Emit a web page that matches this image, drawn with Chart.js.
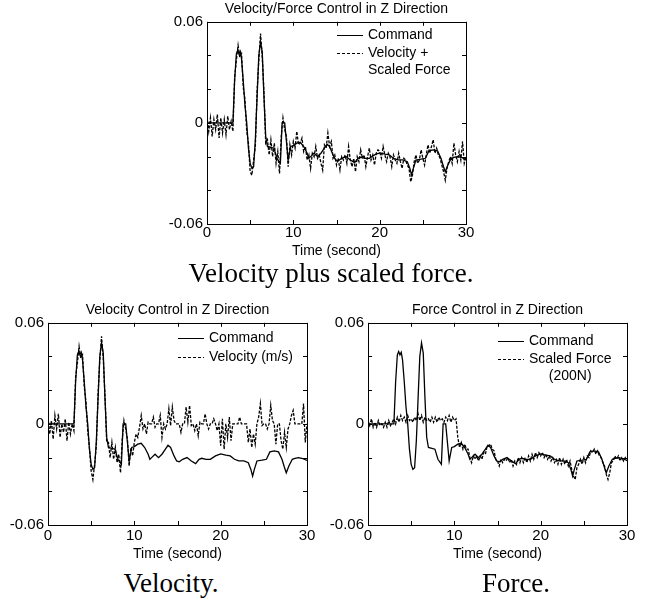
<!DOCTYPE html>
<html>
<head>
<meta charset="utf-8">
<script src="https://cdn.jsdelivr.net/npm/chart.js@4.4.0/dist/chart.umd.min.js"></script>
<style>
body { margin:0; background:#fff; width:647px; height:603px; position:relative; overflow:hidden; }
canvas { position:absolute; }
.cap { position:absolute; font-family:"Liberation Serif", serif; font-size:27px; line-height:1; color:#000; white-space:nowrap; transform:translateX(-50%); }
</style>
</head>
<body>
<canvas id="top" width="355" height="262" style="left:159px;top:0px"></canvas>
<canvas id="vel" width="355" height="263" style="left:0px;top:302px"></canvas>
<canvas id="frc" width="355" height="263" style="left:320px;top:302px"></canvas>
<div class="cap" style="left:331px;top:260px">Velocity plus scaled force.</div>
<div class="cap" style="left:171px;top:570px">Velocity.</div>
<div class="cap" style="left:516px;top:570px">Force.</div>
<script>
// command signal (same in all three plots)
var cmdTime = [0, 3.0, 3.2, 3.4, 3.55, 3.7, 3.85, 4.0, 4.2, 4.4,
  4.6, 4.8, 5.0, 5.2, 5.4, 5.6, 5.8, 6.0, 6.2, 6.4,
  6.6, 6.8, 7.0, 7.75, 8.1, 8.5, 8.7, 9.0, 9.4, 9.7,
  10.0, 10.4, 10.8, 11.2, 11.6, 11.8, 12.0, 12.4, 12.8, 13.2,
  13.6, 13.9, 14.2, 14.6, 14.9, 15.2, 15.6, 16.1, 16.6, 17.1,
  17.5, 17.8, 18.3, 18.8, 19.4, 20.0, 20.6, 21.1, 21.6, 22.1,
  22.7, 23.2, 23.5, 23.7, 23.9, 24.2, 24.8, 25.3, 25.7, 26.2,
  26.7, 27.1, 27.4, 27.6, 27.9, 28.3, 28.6, 29.0, 29.4, 30.0];
var cmdValue = [0, 0, 0.025, 0.041, 0.043, 0.041, 0.0425, 0.038, 0.025, 0.010,
  0.000, -0.015, -0.024, -0.027, -0.026, -0.010, 0.015, 0.040, 0.048, 0.042,
  0.015, -0.008, -0.014, -0.015, -0.021, -0.024, 0.000, 0.000, -0.022, -0.014,
  -0.0135, -0.012, -0.0115, -0.014, -0.018, -0.021, -0.020, -0.018, -0.020, -0.018,
  -0.015, -0.0127, -0.014, -0.019, -0.022, -0.0225, -0.021, -0.020, -0.022, -0.0236,
  -0.021, -0.0204, -0.021, -0.021, -0.019, -0.0178, -0.0185, -0.019, -0.021, -0.022,
  -0.022, -0.023, -0.027, -0.031, -0.027, -0.022, -0.0215, -0.021, -0.0166, -0.016,
  -0.0166, -0.021, -0.026, -0.029, -0.025, -0.021, -0.0204, -0.020, -0.0204, -0.0217];

// measured signals, one sample every 0.2 s from 0 to 30 s
var sampleStep = 0.2;
var velForce = [
  0.004, -0.005, 0.003, -0.008, 0.002, -0.004, 0.005, -0.009, 0.003, -0.006,
  0.002, -0.007, 0.004, -0.004, 0.001, -0.005, 0.027, 0.037, 0.046, 0.039,
  0.041, 0.021, 0.014, -0.005, -0.012, -0.029, -0.031, -0.022, -0.014, 0.019,
  0.037, 0.053, 0.039, 0.018, -0.012, -0.010, -0.019, -0.010, -0.020, -0.012,
  -0.024, -0.017, -0.030, -0.008, 0.003, -0.004, -0.008, -0.026, -0.013, -0.019,
  -0.011, -0.015, -0.005, -0.013, -0.012, -0.009, -0.017, -0.014, -0.022, -0.019,
  -0.027, -0.018, -0.020, -0.014, -0.021, -0.019, -0.024, -0.028, -0.013, -0.015,
  -0.006, -0.014, -0.011, -0.021, -0.019, -0.025, -0.021, -0.028, -0.020, -0.022,
  -0.019, -0.024, -0.014, -0.022, -0.026, -0.021, -0.029, -0.020, -0.023, -0.016,
  -0.021, -0.019, -0.026, -0.020, -0.015, -0.022, -0.019, -0.025, -0.018, -0.016,
  -0.017, -0.021, -0.014, -0.019, -0.023, -0.018, -0.020, -0.026, -0.019, -0.022,
  -0.024, -0.018, -0.023, -0.027, -0.021, -0.022, -0.025, -0.027, -0.035, -0.031,
  -0.023, -0.019, -0.024, -0.022, -0.016, -0.021, -0.025, -0.019, -0.013, -0.018,
  -0.014, -0.010, -0.018, -0.015, -0.019, -0.021, -0.025, -0.029, -0.034, -0.027,
  -0.023, -0.020, -0.024, -0.012, -0.019, -0.023, -0.017, -0.022, -0.011, -0.024,
  -0.020];
var velocity = [
  0.004, -0.006, 0.002, -0.009, 0.005, -0.003, 0.006, -0.008, 0.000, -0.005,
  0.003, -0.010, 0.001, -0.006, 0.000, -0.004, 0.028, 0.036, 0.046, 0.039,
  0.041, 0.022, 0.013, -0.004, -0.014, -0.028, -0.033, -0.024, -0.013, 0.018,
  0.038, 0.052, 0.039, 0.017, -0.011, -0.011, -0.020, -0.011, -0.021, -0.014,
  -0.023, -0.018, -0.029, -0.009, 0.002, -0.003, -0.009, -0.025, -0.014, -0.019,
  -0.011, -0.006, -0.008, -0.002, 0.005, -0.003, 0.000, -0.006, 0.001, 0.000,
  0.000, 0.004, -0.002, 0.000, 0.000, 0.005, -0.008, 0.000, -0.003, 0.000,
  0.009, -0.001, 0.010, 0.002, 0.000, 0.000, 0.000, -0.005, 0.000, 0.000,
  0.010, 0.001, 0.011, -0.001, 0.000, -0.004, 0.000, -0.007, 0.001, 0.000,
  0.000, 0.006, 0.000, -0.003, 0.000, 0.000, 0.003, 0.000, -0.004, 0.000,
  -0.013, 0.003, -0.015, 0.000, -0.008, 0.004, -0.010, 0.000, 0.000, 0.000,
  0.000, 0.004, 0.000, 0.000, 0.000, 0.000, -0.011, -0.003, -0.014, -0.006,
  -0.012, 0.000, 0.004, 0.012, -0.001, 0.000, 0.000, -0.003, 0.000, 0.011,
  0.002, 0.000, -0.012, 0.000, 0.000, -0.010, -0.015, -0.005, -0.014, -0.003,
  0.000, 0.005, 0.008, 0.000, 0.000, 0.000, 0.000, 0.000, 0.012, -0.011,
  0.000];
var scaledForce = [
  0.002, -0.001, 0.003, -0.002, 0.001, -0.002, 0.002, -0.001, 0.000, -0.002,
  0.001, -0.002, 0.002, -0.001, 0.001, 0.003, 0.000, 0.004, 0.001, 0.005,
  0.002, 0.004, 0.001, 0.005, 0.002, 0.003, 0.001, 0.004, 0.002, 0.006,
  0.002, 0.005, 0.001, 0.004, 0.002, 0.003, 0.001, 0.004, 0.001, 0.004,
  0.001, 0.004, 0.002, 0.003, 0.001, 0.004, 0.002, 0.005, 0.001, 0.004,
  0.002, 0.003, -0.008, -0.014, -0.011, -0.015, -0.012, -0.015, -0.015, -0.020,
  -0.023, -0.019, -0.021, -0.019, -0.022, -0.019, -0.021, -0.017, -0.018, -0.013,
  -0.013, -0.012, -0.015, -0.016, -0.021, -0.022, -0.025, -0.021, -0.023, -0.021,
  -0.022, -0.020, -0.023, -0.021, -0.025, -0.022, -0.024, -0.020, -0.023, -0.020,
  -0.023, -0.020, -0.023, -0.019, -0.022, -0.018, -0.021, -0.017, -0.020, -0.017,
  -0.019, -0.017, -0.020, -0.018, -0.021, -0.019, -0.022, -0.020, -0.023, -0.021,
  -0.024, -0.020, -0.024, -0.021, -0.024, -0.021, -0.025, -0.022, -0.027, -0.031,
  -0.033, -0.026, -0.024, -0.021, -0.024, -0.020, -0.023, -0.019, -0.020, -0.016,
  -0.017, -0.015, -0.018, -0.016, -0.019, -0.020, -0.023, -0.025, -0.030, -0.033,
  -0.029, -0.023, -0.022, -0.019, -0.021, -0.019, -0.022, -0.020, -0.022, -0.020,
  -0.022];

Chart.defaults.font.family = '"Liberation Sans", Arial, sans-serif';
Chart.defaults.color = '#000';

var cmdPts = cmdTime.map(function(t, i){ return {x: t, y: cmdValue[i]}; });
function onGrid(arr){
  return arr.map(function(v, i){ return {x: i * sampleStep, y: v}; });
}

// box round the plot with inward tick marks on all sides
var boxTicks = {
  id: 'boxTicks',
  afterDatasetsDraw: function(chart){
    var ctx = chart.ctx, a = chart.chartArea, x = chart.scales.x, y = chart.scales.y;
    var L = 4;
    ctx.save();
    ctx.strokeStyle = '#000';
    ctx.lineWidth = 1;
    ctx.strokeRect(Math.round(a.left) + 0.5, Math.round(a.top) + 0.5,
      Math.round(a.right - a.left), Math.round(a.bottom - a.top));
    ctx.beginPath();
    x.ticks.forEach(function(t){
      var px = Math.round(x.getPixelForValue(t.value)) + 0.5;
      ctx.moveTo(px, a.bottom); ctx.lineTo(px, a.bottom - L);
      ctx.moveTo(px, a.top); ctx.lineTo(px, a.top + L);
    });
    y.ticks.forEach(function(t){
      var py = Math.round(y.getPixelForValue(t.value)) + 0.5;
      ctx.moveTo(a.left, py); ctx.lineTo(a.left + L, py);
      ctx.moveTo(a.right, py); ctx.lineTo(a.right - L, py);
    });
    ctx.stroke();
    ctx.restore();
  }
};

// legend inside the plot, top right
var boxLegend = {
  id: 'boxLegend',
  afterDraw: function(chart, args, opts){
    var ctx = chart.ctx, a = chart.chartArea;
    ctx.save();
    ctx.font = '14px "Liberation Sans", Arial, sans-serif';
    ctx.fillStyle = '#000';
    ctx.strokeStyle = '#000';
    ctx.lineWidth = 1;
    ctx.textBaseline = 'middle';
    opts.rows.forEach(function(r){
      var yy = Math.round(a.top + r.dy) + 0.5;
      ctx.setLineDash(r.dash);
      ctx.beginPath();
      ctx.moveTo(a.right - 129, yy);
      ctx.lineTo(a.right - 103, yy);
      ctx.stroke();
      ctx.setLineDash([]);
      var tx = a.right - 98;
      var w0 = ctx.measureText(r.text[0]).width;
      r.text.forEach(function(s, k){
        if (k > 0 && r.center) {
          ctx.textAlign = 'center';
          ctx.fillText(s, tx + w0 / 2, yy + k * 17);
        } else {
          ctx.textAlign = 'left';
          ctx.fillText(s, tx, yy + k * 17);
        }
      });
    });
    ctx.restore();
  }
};

function makeChart(id, title, measured, legendRows, xHeight, tickPad, padTop){
  return new Chart(document.getElementById(id), {
    type: 'line',
    data: {
      datasets: [{
        label: 'measured',
        data: onGrid(measured),
        borderColor: '#000',
        borderWidth: 1.3,
        borderDash: [3, 1.5],
        pointRadius: 0,
        tension: 0,
        fill: false
      }, {
        label: 'Command',
        data: cmdPts,
        borderColor: '#000',
        borderWidth: 1.3,
        pointRadius: 0,
        tension: 0,
        fill: false
      }]
    },
    options: {
      responsive: false,
      animation: false,
      layout: { padding: { left: 0, right: 0, top: padTop, bottom: 0 } },
      plugins: {
        legend: { display: false },
        tooltip: { enabled: false },
        title: { display: true, text: title, font: { size: 14, weight: 'normal' }, padding: { top: 0, bottom: 4 } },
        boxLegend: { rows: legendRows }
      },
      scales: {
        x: {
          type: 'linear', min: 0, max: 30,
          grid: { display: false, drawTicks: false }, border: { display: false },
          ticks: {
            stepSize: 5, padding: tickPad, autoSkip: false, maxRotation: 0,
            font: { size: 15 },
            callback: function(v){ return v % 10 === 0 ? String(v) : ''; }
          },
          title: { display: true, text: 'Time (second)', font: { size: 14 }, padding: { top: 0, bottom: 2 } },
          afterFit: function(s){ s.height = xHeight; }
        },
        y: {
          min: -0.06, max: 0.06,
          grid: { display: false, drawTicks: false }, border: { display: false },
          ticks: {
            stepSize: 0.02, padding: 4,
            font: { size: 15 },
            callback: function(v){
              if (Math.abs(v) < 1e-9) return '0';
              if (Math.abs(Math.abs(v) - 0.06) < 1e-9) return v.toFixed(2);
              return '';
            }
          },
          afterFit: function(s){ s.width = 48; }
        },
        // empty axis on the right so the plot sits centred under its title
        y2: {
          position: 'right', min: -0.06, max: 0.06,
          grid: { display: false, drawTicks: false }, border: { display: false },
          ticks: { display: false },
          afterFit: function(s){ s.width = 48; }
        }
      }
    },
    plugins: [boxTicks, boxLegend]
  });
}

makeChart('top', 'Velocity/Force Control in Z Direction', velForce, [
  { dash: [], text: ['Command'], dy: 13 },
  { dash: [3, 2], text: ['Velocity +', 'Scaled Force'], dy: 31 }
], 38, 0, 1);

makeChart('vel', 'Velocity Control in Z Direction', velocity, [
  { dash: [], text: ['Command'], dy: 15 },
  { dash: [3, 2], text: ['Velocity (m/s)'], dy: 34 }
], 40, 2, 0);

makeChart('frc', 'Force Control in Z Direction', scaledForce, [
  { dash: [], text: ['Command'], dy: 18 },
  { dash: [3, 2], text: ['Scaled Force', '(200N)'], dy: 36, center: true }
], 40, 2, 0);
</script>
</body>
</html>
